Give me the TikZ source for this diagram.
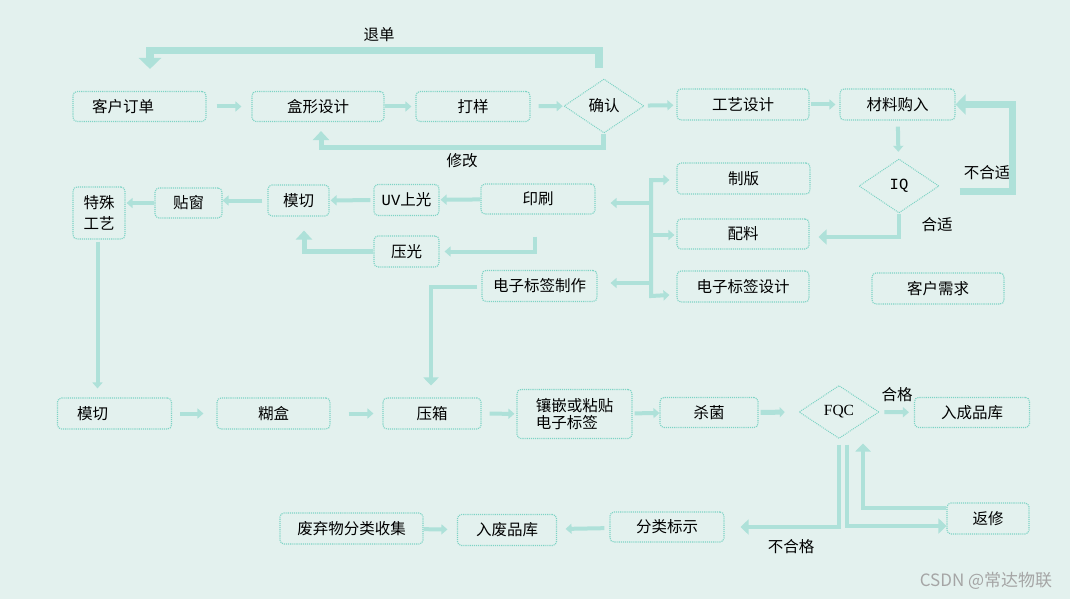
\documentclass[tikz,border=0pt]{standalone}
\usepackage{fontspec}
\setmainfont{Noto Sans CJK SC}
\newfontfamily\monof{Liberation Mono}
\newfontfamily\serf{Liberation Serif}
\usetikzlibrary{arrows.meta,shapes.geometric,calc}
\definecolor{bgc}{RGB}{227,241,238}
\definecolor{lnc}{RGB}{174,225,217}
\definecolor{bxc}{RGB}{125,211,197}
\definecolor{wmc}{RGB}{165,165,165}
\tikzset{
  sz/.style 2 args={minimum width=#1pt,minimum height=#2pt},
  box/.style={draw=bxc, densely dotted, line width=1.1pt, rounded corners=4pt, inner sep=0pt,
    font=\fontsize{15.5}{18}\selectfont, text=black},
  dia/.style={diamond, draw=bxc, densely dotted, line width=1pt, inner sep=0pt,
    minimum width=80pt, minimum height=54pt, font=\fontsize{15.5}{18}\selectfont, text=black},
  lbl/.style={font=\fontsize{15.5}{18}\selectfont, inner sep=0pt, text=black},
  ln/.style={draw=lnc, line width=4pt},
  ar/.style={draw=lnc, line width=4pt, -{Triangle[length=6pt,width=10pt]}},
  arb/.style={draw=lnc, line width=4pt, {Triangle[length=6pt,width=10pt]}-{Triangle[length=6pt,width=10pt]}},
  arm/.style={draw=lnc, line width=4.5pt, -{Triangle[length=8pt,width=15pt]}},
  arw/.style={draw=lnc, line width=5pt, -{Triangle[length=9pt,width=16pt]}},
  arw5/.style={draw=lnc, line width=5pt, -{Triangle[length=5pt,width=10pt]}},
  thk/.style={draw=lnc, line width=7pt, -{Triangle[length=10pt,width=20pt]}},
  thk2/.style={draw=lnc, line width=7.5pt, -{Triangle[length=11pt,width=22pt]}},
}
\begin{document}
\begin{tikzpicture}[x=1pt,y=-1pt]
\useasboundingbox (0,0) rectangle (1070,599);
\fill[bgc] (0,0) rectangle (1070,599);

% nodes
\node[box,sz={133}{30}] (n1) at (139.5,106.5) {客户订单\hspace*{33pt}};
\node[box,sz={132}{30}] (n2) at (318,106.5) {盒形设计};
\node[box,sz={114}{30}] (n3) at (473,106.5) {打样};
\node[dia] (d1) at (604,106) {确认};
\node[box,sz={132}{31}] (n4) at (743,104.5) {工艺设计};
\node[box,sz={115}{31}] (n5) at (897.5,104.5) {材料购入};
\node[dia] (d2) at (899,186) {\monof IQ};
\node[box,sz={133}{31}] (n6) at (743.5,178.5) {制版};
\node[box,sz={132}{30}] (n7) at (743,234) {配料};
\node[box,sz={132}{31}] (n8) at (743,286.5) {电子标签设计};
\node[box,sz={132}{31}] (n9) at (938,288.5) {客户需求};
\node[box,sz={114}{30}] (n10) at (538,199) {印刷};
\node[box,sz={65}{31}] (n11) at (406.5,200) {{\monof UV}上光};
\node[box,sz={61}{31}] (n12) at (298.5,200.5) {模切};
\node[box,sz={67}{30}] (n13) at (188.5,203) {贴窗};
\node[box,sz={52}{52},align=center,font=\fontsize{15.5}{21}\selectfont] (n14) at (99,213) {特殊\\工艺};
\node[box,sz={65}{31}] (n15) at (406.5,251.5) {压光};
\node[box,sz={115}{31}] (n16) at (539.5,286) {电子标签制作};
\node[box,sz={114}{31}] (n17) at (114.5,413.5) {模切\hspace*{44pt}};
\node[box,sz={113}{31}] (n18) at (273.5,413.5) {糊盒};
\node[box,sz={98}{31}] (n19) at (432,413.5) {压箱};
\node[box,sz={115}{49},align=left,font=\fontsize{15.5}{17}\selectfont] (n20) at (574.5,414) {镶嵌或粘贴\\电子标签};
\node[box,sz={98}{30}] (n21) at (709,412.5) {杀菌};
\node[dia,minimum height=53pt] (d3) at (839,412) {\serf FQC};
\node[box,sz={115}{30}] (n22) at (972,412.5) {入成品库};
\node[box,sz={82}{31}] (n23) at (988,518.5) {返修};
\node[box,sz={114}{30}] (n24) at (667,527) {分类标示};
\node[box,sz={99}{31}] (n25) at (507,530) {入废品库};
\node[box,sz={143}{31}] (n26) at (351.5,528.5) {废弃物分类收集};

% labels
\node[lbl] (l1) at (379,35) {退单};
\node[lbl] (l2) at (462,161) {修改};
\node[lbl] (l3) at (987,173) {不合适};
\node[lbl] (l4) at (937,225) {合适};
\node[lbl] (l5) at (897,395) {合格};
\node[lbl] (l6) at (791,547) {不合格};
\node[font=\fontsize{17}{20}\selectfont, text=wmc, inner sep=0pt] (wm) at (986,581) {CSDN @常达物联};

% bracket coordinates
\coordinate (bt) at (651,180);
\coordinate (bm) at (651,235);
\coordinate (bb) at (651,296);
\coordinate (bl1) at (651,203);
\coordinate (bl2) at (651,283);

% top row
\draw[ar,shorten <=10pt,shorten >=10pt] (n1) -- (n2);
\draw[ar,shorten >=4pt] (n2) -- (n3);
\draw[ar,shorten <=8pt,shorten >=1pt] (n3) -- (d1);
\draw[ar,shorten <=4pt,shorten >=3pt] (d1) -- (n4);
\draw[ar,shorten <=1pt,shorten >=4pt] (n4) -- (n5);
\draw[ar,shorten <=6pt,shorten >=7pt] (n5) -- (d2);
\draw[thk] ($(d2.east)+(20,5)$) -- ++(53,0) |- (n5.east);
\draw[arm] (d2.south) |- ($(n7.east)+(9,3)$);

% loops at top
\draw[thk2] ($(d1.north)+(-5,-10)$) -- ++(0,-18) -| ($(n1.north)+(10.5,-22)$);
\draw[arw] ($(d1.south)+(-1,0)$) -- ++(0,14) -| ($(n2.south)+(3,9)$);

% bracket
\draw[arb] ($(n6.west)+(-7,1.5)$) -- (bt) -- (bb) -- ($(n8.west)+(-7,8.5)$);
\draw[ar] (bm) -- ($(n7.west)+(-2,1)$);
\draw[ar] (bl1) -- ($(n10.east)+(15,4)$);
\draw[ar] (bl2) -- ($(n16.east)+(13,-3)$);

% second row
\draw[ar,shorten >=1pt] (n10) -- (n11);
\draw[ar,shorten <=3pt,shorten >=1pt] (n11) -- (n12);
\draw[ar,shorten <=5pt] (n12.west) -- (n12.west -| n13.east);
\draw[ar,shorten >=1pt] (n13.west) -- (n13.west -| n14.east);
\draw[ar] ($(n10.south)+(-3,22)$) |- ($(n15.east)+(5,0)$);
\draw[arw] (n15.west) -| ($(n12.south)+(5.5,14)$);
\draw[arm] ($(n16.west)+(-4,1)$) -| ($(n19.north)+(-1,-12)$);
\draw[ar] ($(n14.south)+(-1.5,2)$) -- ($(n14.south |- n17.north)+(-1.5,-9)$);

% third row
\draw[ar,shorten <=8pt,shorten >=13pt] (n17) -- (n18);
\draw[ar,shorten <=18pt,shorten >=9pt] (n18) -- (n19);
\draw[ar,shorten <=8pt,shorten >=2pt] (n19) -- (n20);
\draw[ar,shorten <=2pt] (n20) -- (n21);
\draw[arw5,shorten <=2pt,shorten >=14pt] (n21) -- (d3);
\draw[ar,shorten <=5pt,shorten >=5pt] (d3) -- (n22);

% bottom
\draw[arm] ($(d3.south)+(0,5.5)$) |- ($(n24.east)+(16,0)$);
\draw[arm] ($(d3.south)+(8,5.5)$) |- ($(n23.west)+(0,7.5)$);
\draw[arm] ($(n23.west)+(0,-10.5)$) -| ($(d3.south)+(24,4.5)$);
\draw[ar,shorten <=5pt,shorten >=8.5pt] (n24) -- (n25);
\draw[ar,shorten >=9.5pt] (n26) -- (n25);
\end{tikzpicture}
\end{document}
